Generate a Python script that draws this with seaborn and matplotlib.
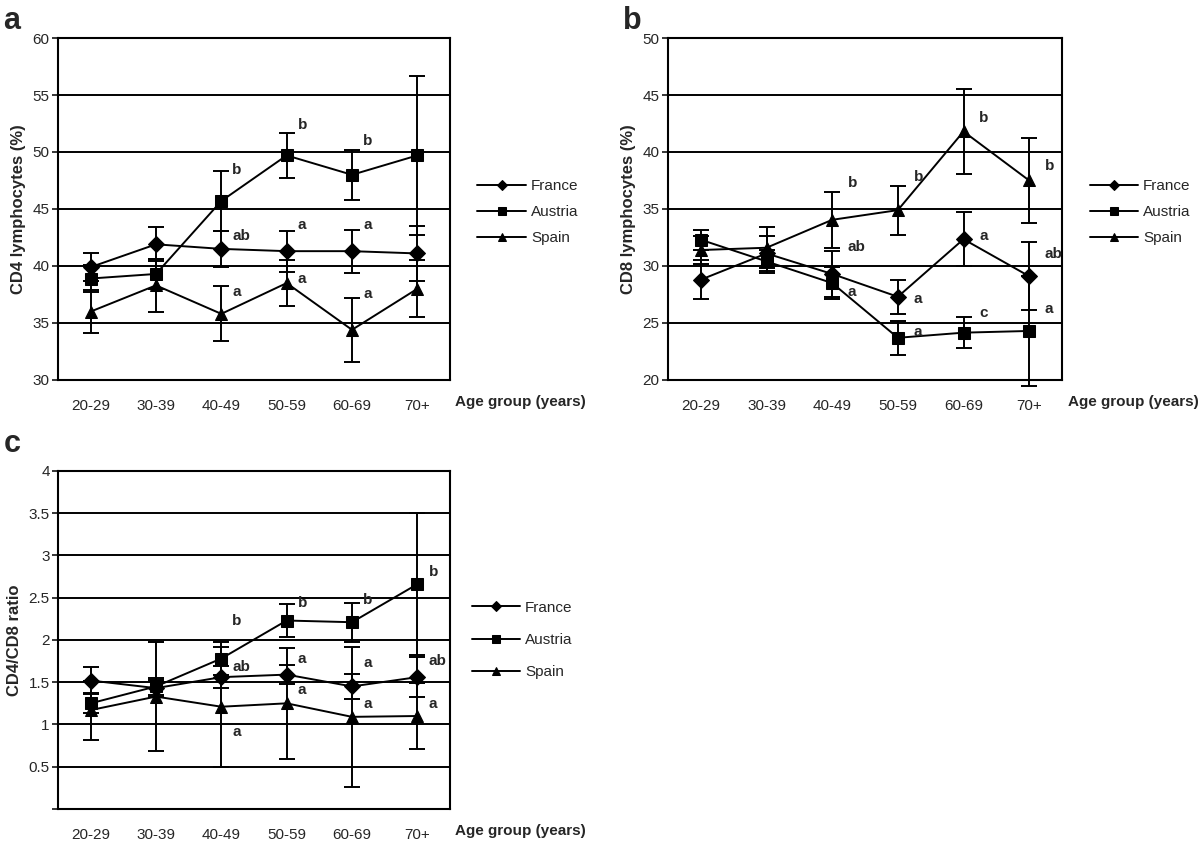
import matplotlib
matplotlib.use("Agg")
import matplotlib.pyplot as plt
import seaborn as sns
import pandas as pd

ages = ["20-29", "30-39", "40-49", "50-59", "60-69", "70+"]
countries = ["France", "Austria", "Spain"]

# panel a: CD4 lymphocytes (%)
cd4_france = [39.9, 41.9, 41.5, 41.3, 41.3, 41.1]
cd4_france_err = [1.2, 1.5, 1.6, 1.8, 1.9, 2.4]
cd4_austria = [38.9, 39.3, 45.7, 49.7, 48.0, 49.7]
cd4_austria_err = [1.2, 1.3, 2.6, 2.0, 2.2, 7.0]
cd4_spain = [36.0, 38.3, 35.8, 38.5, 34.4, 38.0]
cd4_spain_err = [1.9, 2.3, 2.4, 2.0, 2.8, 2.5]
cd4_letter_x = [2, 2, 2, 3, 3, 3, 4, 4, 4]
cd4_letters = ["b", "ab", "a", "b", "a", "a", "b", "a", "a"]
cd4_letter_y = [48.4, 42.6, 37.7, 52.4, 43.6, 38.9, 51.0, 43.6, 37.5]

# panel b: CD8 lymphocytes (%)
cd8_france = [28.8, 31.1, 29.3, 27.3, 32.35, 29.1]
cd8_france_err = [1.7, 1.5, 2.0, 1.5, 2.35, 3.0]
cd8_austria = [32.3, 30.4, 28.5, 23.7, 24.15, 24.3]
cd8_austria_err = [0.9, 1.0, 1.4, 1.5, 1.35, 4.8]
cd8_spain = [31.4, 31.6, 34.05, 34.9, 41.8, 37.5]
cd8_spain_err = [1.2, 1.8, 2.45, 2.15, 3.75, 3.7]
cd8_letter_x = [2, 2, 2, 3, 3, 3, 4, 4, 4, 5, 5, 5]
cd8_letters = ["b", "ab", "a", "b", "a", "a", "b", "a", "c", "b", "ab", "a"]
cd8_letter_y = [37.3, 31.7, 27.7, 37.8, 27.1, 24.2, 43.0, 32.6, 25.9, 38.8, 31.05, 26.2]

# panel c: CD4/CD8 ratio
ratio_france = [1.52, 1.43, 1.56, 1.59, 1.45, 1.56]
ratio_france_err = [0.16, 0.10, 0.13, 0.11, 0.15, 0.24]
ratio_austria = [1.25, 1.45, 1.78, 2.23, 2.21, 2.66]
ratio_austria_err = [0.12, 0.10, 0.19, 0.20, 0.23, 0.84]
ratio_spain = [1.17, 1.33, 1.21, 1.25, 1.09, 1.10]
ratio_spain_err = [0.35, 0.64, 0.71, 0.66, 0.83, 0.39]
ratio_letter_x = [2, 2, 2, 3, 3, 3, 4, 4, 4, 5, 5, 5]
ratio_letters = ["b", "ab", "a", "b", "a", "a", "b", "a", "a", "b", "ab", "a"]
ratio_letter_y = [2.22, 1.68, 0.91, 2.44, 1.78, 1.41, 2.47, 1.73, 1.24, 2.80, 1.75, 1.24]

sns.set_style("white")
plt.rcParams["font.family"] = ["Liberation Sans", "DejaVu Sans"]

markers = {"France": "D", "Austria": "s", "Spain": "^"}
msize = {"France": 6.0, "Austria": 7.5, "Spain": 8.5}


def panel(ax, series, errs, ylim, yticks, ylabel, letter_x, letters, letter_y, dx,
          leg_x, leg_y, leg_space):
    rows = []
    for c, vals in zip(countries, series):
        for i, v in enumerate(vals):
            rows.append({"x": i, "value": v, "country": c})
    df = pd.DataFrame(rows)

    for c, vals, err in zip(countries, series, errs):
        ax.errorbar(range(len(ages)), vals, yerr=err, fmt="none", ecolor="black",
                    elinewidth=1.4, capsize=6, capthick=1.4, clip_on=False, zorder=2)

    sns.lineplot(data=df, x="x", y="value", style="country", markers=markers,
                 dashes=False, color="black", linewidth=1.4, markersize=8,
                 markeredgecolor="black", ax=ax, zorder=3)
    for line, c in zip(ax.lines[-3:], countries):
        line.set_markersize(msize[c])

    for x, t, y in zip(letter_x, letters, letter_y):
        ax.text(x + dx, y, t, ha="left", va="center", fontsize=11, fontweight="bold")

    ax.set_xlim(-0.5, len(ages) - 0.5)
    ax.set_ylim(*ylim)
    ax.set_xticks(range(len(ages)))
    ax.set_xticklabels(ages, fontsize=11)
    ax.set_yticks(yticks)
    ax.set_yticklabels([f"{t:g}" for t in yticks], fontsize=11)
    ax.tick_params(axis="x", length=0, pad=14)
    ax.tick_params(axis="y", length=4, width=1.3, pad=2, left=True)
    ax.yaxis.grid(True, color="black", linewidth=1.4)
    ax.set_axisbelow(True)
    for s in ax.spines.values():
        s.set_color("black")
        s.set_linewidth(1.5)
    ax.set_ylabel(ylabel, fontsize=12, fontweight="bold", labelpad=5)
    ax.set_xlabel("Age group (years)", fontsize=11, fontweight="bold")
    ax.xaxis.set_label_coords(1.18, -0.045)

    sns.move_legend(ax, "center left", bbox_to_anchor=(leg_x, leg_y), frameon=False,
                    title=None, fontsize=11, handlelength=3.2, labelspacing=leg_space,
                    handletextpad=0.3, markerscale=0.7)


fig = plt.figure(figsize=(12, 8.41), dpi=100)
ax_a = fig.add_axes([0.0483, 0.5482, 0.3267, 0.4066])
ax_b = fig.add_axes([0.5567, 0.5482, 0.3283, 0.4066])
ax_c = fig.add_axes([0.0483, 0.0381, 0.3267, 0.4019])

panel(ax_a, [cd4_france, cd4_austria, cd4_spain],
      [cd4_france_err, cd4_austria_err, cd4_spain_err],
      (30, 60), [30, 35, 40, 45, 50, 55, 60], "CD4 lymphocytes (%)",
      cd4_letter_x, cd4_letters, cd4_letter_y, 0.17, 1.035, 0.49, 0.78)
panel(ax_b, [cd8_france, cd8_austria, cd8_spain],
      [cd8_france_err, cd8_austria_err, cd8_spain_err],
      (20, 50), [20, 25, 30, 35, 40, 45, 50], "CD8 lymphocytes (%)",
      cd8_letter_x, cd8_letters, cd8_letter_y, 0.24, 1.035, 0.49, 0.78)
panel(ax_c, [ratio_france, ratio_austria, ratio_spain],
      [ratio_france_err, ratio_austria_err, ratio_spain_err],
      (0, 4), [0.5, 1, 1.5, 2, 2.5, 3, 3.5, 4], "CD4/CD8 ratio",
      ratio_letter_x, ratio_letters, ratio_letter_y, 0.17, 1.02, 0.5, 1.2)
ax_c.set_yticks([0, 0.5, 1, 1.5, 2, 2.5, 3, 3.5, 4])
ax_c.set_yticklabels(["", "0.5", "1", "1.5", "2", "2.5", "3", "3.5", "4"], fontsize=11)

for lab, x, y in [("a", 0.003, 0.993), ("b", 0.519, 0.993), ("c", 0.003, 0.49)]:
    fig.text(x, y, lab, fontsize=22, fontweight="bold", ha="left", va="top")

fig.savefig("out.png", dpi=100)
